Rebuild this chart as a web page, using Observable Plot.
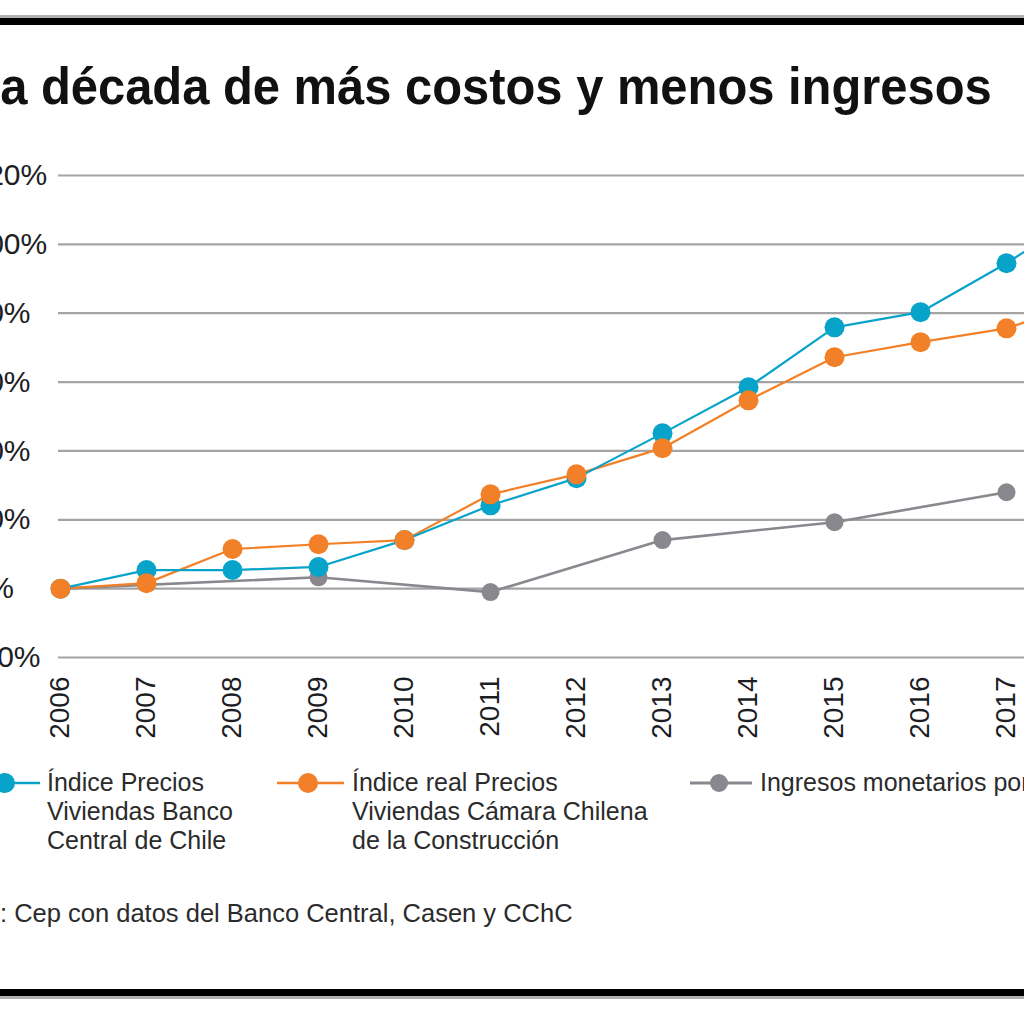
<!DOCTYPE html>
<html>
<head>
<meta charset="utf-8">
<script src="https://cdn.jsdelivr.net/npm/d3@7"></script>
<script src="https://cdn.jsdelivr.net/npm/@observablehq/plot@0.6"></script>
<style>
  html, body { margin: 0; padding: 0; background: #fff; width: 1024px; height: 1024px; overflow: hidden; position: relative; font-family: "Liberation Sans", Arial, sans-serif; }
  .abs { position: absolute; white-space: nowrap; }
  #title { font-weight: bold; font-size: 52px; color: #111; transform-origin: 0 0; transform: scaleX(0.94); top: 56px; }
  .leg { position: absolute; font-size: 25px; line-height: 29px; color: #2b2b2b; white-space: nowrap; }
  #source { font-size: 25.5px; color: #2b2b2b; top: 899px; }
  #chart svg { max-width: none !important; }
</style>
</head>
<body>
<div class="abs" style="left:0;top:15px;width:1024px;height:3px;background:#b0b0b0"></div>
<div class="abs" style="left:0;top:18px;width:1024px;height:7px;background:#000"></div>
<div class="abs" style="left:0;top:989px;width:1024px;height:7px;background:#000"></div>
<div class="abs" style="left:0;top:996px;width:1024px;height:3px;background:#b0b0b0"></div>

<div id="title" class="abs"><span id="tpre">Un</span>a década de más costos y menos ingresos</div>
<div id="chart" class="abs" style="left:-100px;top:140px;width:1260px;height:612px"></div>
<div id="legend"></div>
<div id="source" class="abs"><span id="spre">Fuente</span>: Cep con datos del Banco Central, Casen y CChC</div>

<script>
// ---- data ----
const years = [2006, 2007, 2008, 2009, 2010, 2011, 2012, 2013, 2014, 2015, 2016, 2017, 2018];
const indiceBancoCentral = [0, 5.4, 5.4, 6.3, 14.1, 24.2, 32.1, 45.1, 58.5, 75.9, 80.3, 94.5, 110.7];
const indiceCChC = [0, 1.6, 11.5, 12.9, 14.1, 27.4, 33.2, 40.8, 54.7, 67.2, 71.6, 75.6, 84.0];
const ingresosYears = [2006, 2009, 2011, 2013, 2015, 2017];
const ingresos = [0, 3.3, -1.0, 14.1, 19.3, 28.0];
const yTicks = [-20, 0, 20, 40, 60, 80, 100, 120];
const xTicks = [2006, 2007, 2008, 2009, 2010, 2011, 2012, 2013, 2014, 2015, 2016, 2017, 2018];
const seriesColors = ["#08a3c9", "#f28028", "#88888e"];

const bc = years.map((y, i) => ({year: y, value: indiceBancoCentral[i]}));
const cc = years.map((y, i) => ({year: y, value: indiceCChC[i]}));
const ing = ingresosYears.map((y, i) => ({year: y, value: ingresos[i]}));

const font = "'Liberation Sans', Arial, sans-serif";
const W = 1260, H = 612;
const chart = Plot.plot({
  width: W,
  height: H,
  marginLeft: 158,
  marginRight: 68,
  marginTop: 35,
  marginBottom: 95,
  style: {fontFamily: font, background: "transparent", overflow: "visible", maxWidth: "none"},
  x: {type: "linear", domain: [2006, 2018], range: [160, 1192], label: null},
  y: {domain: [-20, 120], label: null},
  marks: [
    Plot.ruleY(yTicks, {stroke: "#a4a4a4", strokeWidth: 2.2}),
    Plot.axisY(yTicks, {tickSize: 0, tickPadding: 88, textAnchor: "start", fontSize: 30, fill: "#1d1d24", tickFormat: d => `${d}%`, label: null}),
    Plot.axisX(xTicks, {tickSize: 0, tickPadding: 19, tickRotate: -90, fontSize: 28, fill: "#1d1d24", tickFormat: d => String(d), label: null}),
    Plot.line(ing, {x: "year", y: "value", stroke: seriesColors[2], strokeWidth: 2.6}),
    Plot.dot(ing, {x: "year", y: "value", r: 9, fill: seriesColors[2]}),
    Plot.line(cc, {x: "year", y: "value", stroke: seriesColors[1], strokeWidth: 2.2}),
    Plot.line(bc, {x: "year", y: "value", stroke: seriesColors[0], strokeWidth: 2.2}),
    Plot.dot(bc, {x: "year", y: "value", r: 10, fill: seriesColors[0]}),
    Plot.dot(cc, {x: "year", y: "value", r: 10, fill: seriesColors[1]})
  ]
});
document.getElementById("chart").appendChild(chart);

// ---- legend ----
const legendItems = [
  {lines: ["Índice Precios", "Viviendas Banco", "Central de Chile"], text: 47, l1: -30, l2: 40, c: 5},
  {lines: ["Índice real Precios", "Viviendas Cámara Chilena", "de la Construcción"], text: 352, l1: 277, l2: 344, c: 308},
  {lines: ["Ingresos monetarios por hogar"], text: 760, l1: 690, l2: 752, c: 719}
];
const legend = document.getElementById("legend");
legendItems.forEach((it, i) => {
  const sw = document.createElementNS("http://www.w3.org/2000/svg", "svg");
  sw.setAttribute("width", 1024); sw.setAttribute("height", 30);
  sw.style.position = "absolute"; sw.style.left = "0px"; sw.style.top = "768px"; sw.style.overflow = "visible";
  sw.innerHTML = `<line x1="${it.l1}" x2="${it.l2}" y1="15" y2="15" stroke="${seriesColors[i]}" stroke-width="${i === 2 ? 3 : 2.5}"/>` +
    `<circle cx="${it.c}" cy="15" r="${i === 2 ? 9 : 10}" fill="${seriesColors[i]}"/>`;
  legend.appendChild(sw);
  const t = document.createElement("div");
  t.className = "leg";
  t.style.left = it.text + "px";
  t.style.top = "768px";
  t.innerHTML = it.lines.join("<br>");
  legend.appendChild(t);
});

// ---- crop offsets (reference is cropped on the left) ----
const tp = document.getElementById("tpre").getBoundingClientRect().width;
document.getElementById("title").style.left = (-tp) + "px";
const sp = document.getElementById("spre").getBoundingClientRect().width;
document.getElementById("source").style.left = (-sp) + "px";
</script>
</body>
</html>
